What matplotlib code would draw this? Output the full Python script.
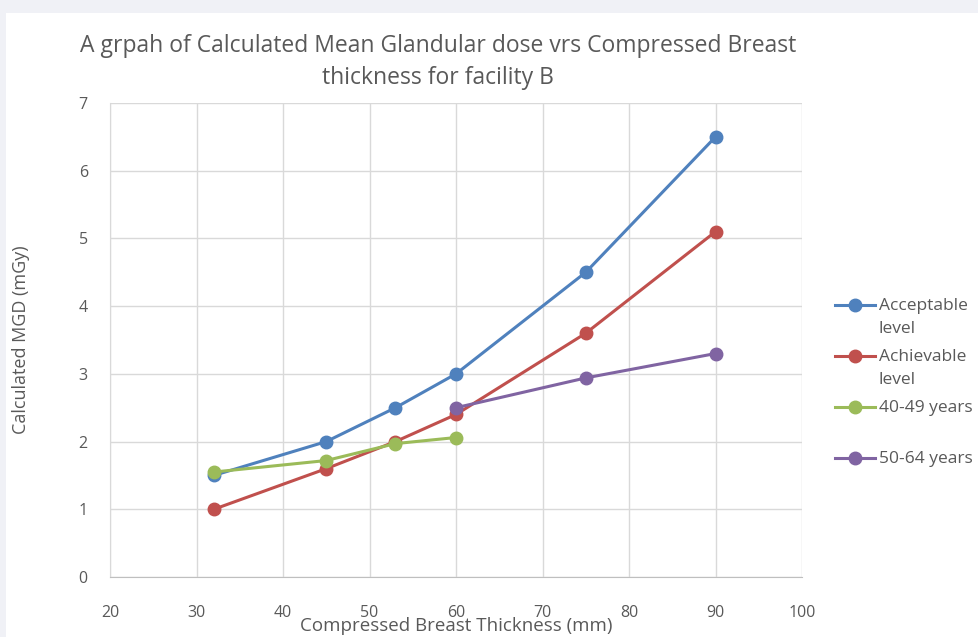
import matplotlib
matplotlib.use("Agg")
import matplotlib.pyplot as plt
from matplotlib.patches import Rectangle
from matplotlib.lines import Line2D

x_accept = [32, 45, 53, 60, 75, 90]
y_accept = [1.5, 2.0, 2.5, 3.0, 4.5, 6.5]
x_achieve = [32, 45, 53, 60, 75, 90]
y_achieve = [1.0, 1.6, 2.0, 2.4, 3.6, 5.1]
x_4049 = [32, 45, 53, 60]
y_4049 = [1.55, 1.72, 1.97, 2.06]
x_5064 = [60, 75, 90]
y_5064 = [2.5, 2.94, 3.3]

series = [
    ("Acceptable\nlevel", x_accept, y_accept, "#4F81BD"),
    ("Achievable\nlevel", x_achieve, y_achieve, "#C0504D"),
    ("40-49 years", x_4049, y_4049, "#9BBB59"),
    ("50-64 years", x_5064, y_5064, "#8064A2"),
]

plt.rcParams['font.family'] = ['Open Sans', 'DejaVu Sans']
txt = "#595959"
W, H = 979, 637

fig = plt.figure(figsize=(9.79, 6.37), dpi=100)
fig.patch.set_facecolor("#F0F1F6")
fig.patches.append(Rectangle((6/W, 0), 1, 1 - 13/H, transform=fig.transFigure,
                             facecolor="white", edgecolor="none", zorder=-10))

ax = fig.add_axes([110/W, 60/H, 692/W, 474/H])
ax.set_facecolor("white")
for label, xs, ys, c in series:
    ax.plot(xs, ys, color=c, lw=2.2, marker='o', ms=9, label=label, zorder=3, clip_on=False)

ax.set_xlim(20, 100)
ax.set_ylim(0, 7)
ax.set_xticks(range(20, 101, 10))
ax.set_yticks(range(0, 8))
ax.grid(True, color="#D9D9D9", lw=1)
ax.set_axisbelow(True)
for s in ["top", "right"]:
    ax.spines[s].set_visible(False)
ax.spines["left"].set_color("#D9D9D9")
ax.spines["bottom"].set_color("#BFBFBF")
ax.tick_params(axis='both', length=0, labelsize=11.5, colors=txt)
ax.tick_params(axis='x', pad=20)
ax.tick_params(axis='y', pad=16)

ax.set_xlabel("Compressed Breast Thickness (mm)", fontsize=13.5, color=txt, labelpad=-3)
ax.set_ylabel("Calculated MGD (mGy)", fontsize=13, color=txt, labelpad=35)
fig.text(438/W, 1 - 62/H, "A grpah of Calculated Mean Glandular dose vrs Compressed Breast\nthickness for facility B",
         ha='center', va='center', fontsize=16.5, color=txt, linespacing=1.45)

# legend (Excel-style: handle aligned with first text line, fixed entry pitch)
y0, step = 305, 51
for i, (label, xs, ys, c) in enumerate(series):
    yy = 1 - (y0 + i * step) / H
    fig.add_artist(Line2D([835/W, 875/W], [yy, yy], transform=fig.transFigure,
                          color=c, lw=2.2))
    fig.add_artist(Line2D([855/W], [yy], transform=fig.transFigure,
                          color=c, marker='o', ms=9))
    fig.text(879/W, yy + 7/H, label, ha='left', va='top', fontsize=12.5, color=txt,
             linespacing=1.55, transform=fig.transFigure)

fig.savefig("out.png", dpi=100, facecolor=fig.get_facecolor())
